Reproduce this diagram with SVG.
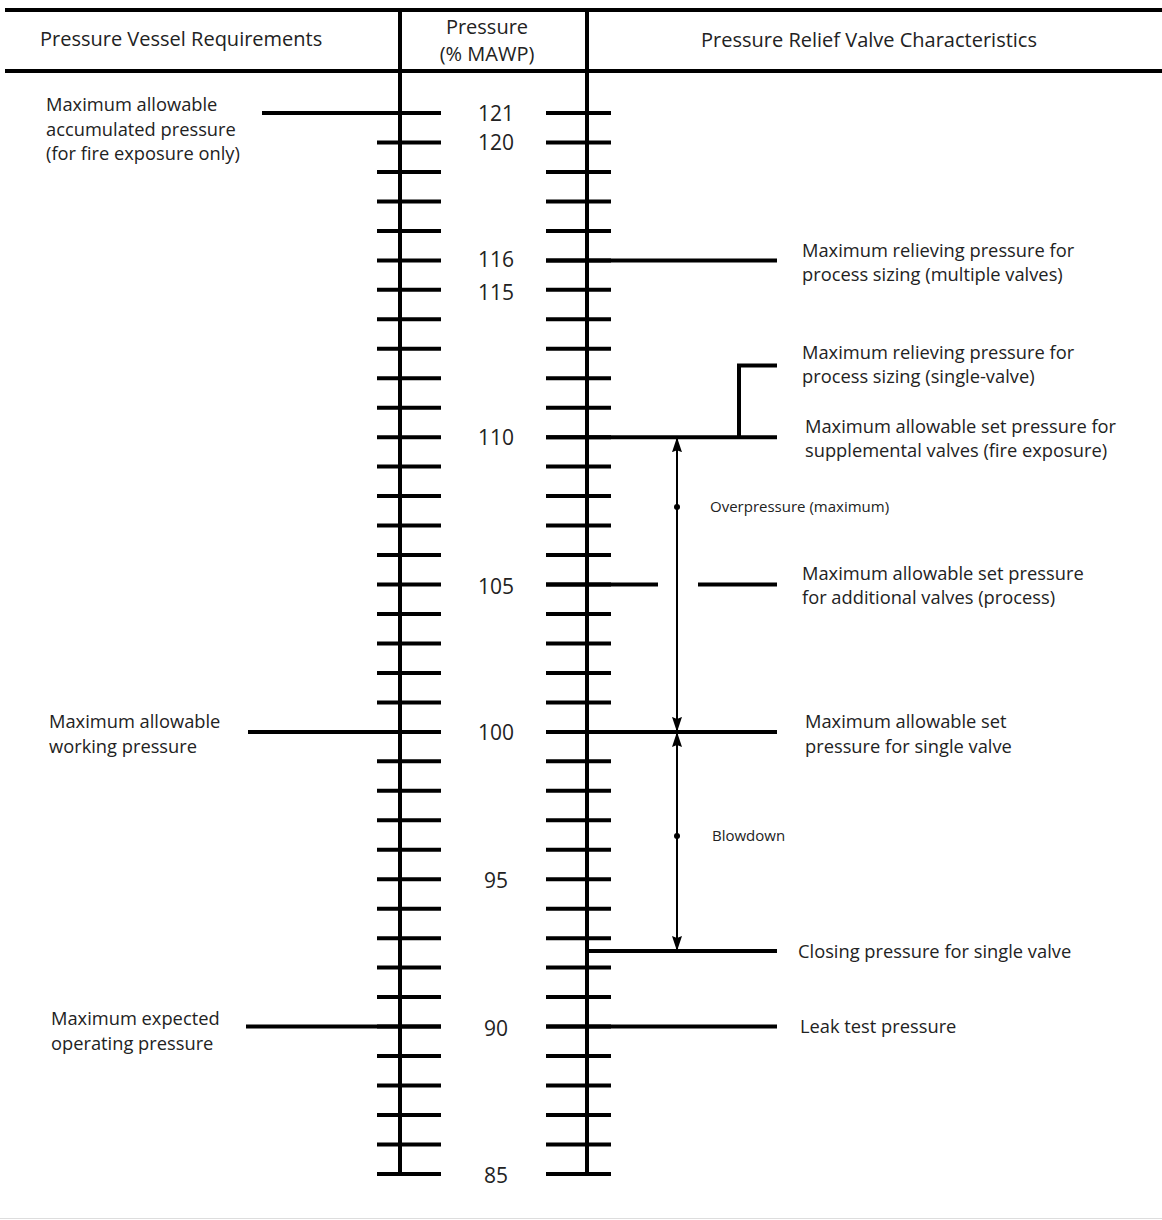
<svg xmlns="http://www.w3.org/2000/svg" width="1162" height="1220" viewBox="0 0 1162 1220">
<style>
.bg{fill:#fff}
.rule{stroke:#000;stroke-width:4;fill:none}
.tick{stroke:#000;stroke-width:4;fill:none}
.lvl{stroke:#000;stroke-width:4;fill:none;stroke-linejoin:miter}
.dim{stroke:#000;stroke-width:2;fill:none}
.dot{fill:#000}
.hdr{font-family:"Open Sans","Liberation Sans",sans-serif;font-size:20px;fill:#222}
.num{font-family:"Open Sans","Liberation Sans",sans-serif;font-size:21px;fill:#222;text-anchor:middle}
.lbl{font-family:"Open Sans","Liberation Sans",sans-serif;font-size:18.3px;fill:#222}
.sm{font-family:"Open Sans","Liberation Sans",sans-serif;font-size:15px;fill:#222}
</style>
<defs>
<marker id="ah" viewBox="0 0 15 10" refX="15" refY="5" markerWidth="15" markerHeight="10" markerUnits="userSpaceOnUse" orient="auto-start-reverse">
<path d="M0,0 L15,5 L0,10 L2,5 z" fill="#000"/>
</marker>
</defs>
<rect class="bg" x="0" y="0" width="1162" height="1220"/>

<g id="header">
<path class="rule" d="M5 10H1162M5 71H1162"/>
<text class="hdr" x="40" y="46">Pressure Vessel Requirements</text>
<text class="hdr" x="487" y="34" text-anchor="middle">Pressure</text>
<text class="hdr" x="487" y="61" text-anchor="middle">(% MAWP)</text>
<text class="hdr" x="869" y="47" text-anchor="middle">Pressure Relief Valve Characteristics</text>
</g>

<g id="scale-left">
<path class="rule" d="M400 10V1175"/>
<path class="tick" d="M377 113H441M377 142.5H441M377 171.9H441M377 201.4H441M377 230.9H441M377 260.4H441M377 289.8H441M377 319.3H441M377 348.8H441M377 378.2H441M377 407.7H441M377 437.2H441M377 466.6H441M377 496.1H441M377 525.6H441M377 555.1H441M377 584.5H441M377 614H441M377 643.5H441M377 672.9H441M377 702.4H441M377 731.9H441M377 761.3H441M377 790.8H441M377 820.3H441M377 849.8H441M377 879.2H441M377 908.7H441M377 938.2H441M377 967.6H441M377 997.1H441M377 1026.6H441M377 1056H441M377 1085.5H441M377 1115H441M377 1144.5H441M377 1173.9H441"/>
</g>

<g id="scale-right">
<path class="rule" d="M587 10V1175"/>
<path class="tick" d="M546 113H611M546 142.5H611M546 171.9H611M546 201.4H611M546 230.9H611M546 260.4H611M546 289.8H611M546 319.3H611M546 348.8H611M546 378.2H611M546 407.7H611M546 437.2H611M546 466.6H611M546 496.1H611M546 525.6H611M546 555.1H611M546 584.5H611M546 614H611M546 643.5H611M546 672.9H611M546 702.4H611M546 731.9H611M546 761.3H611M546 790.8H611M546 820.3H611M546 849.8H611M546 879.2H611M546 908.7H611M546 938.2H611M546 967.6H611M546 997.1H611M546 1026.6H611M546 1056H611M546 1085.5H611M546 1115H611M546 1144.5H611M546 1173.9H611"/>
</g>

<g id="scale-numbers">
<text class="num" x="496" y="121">121</text>
<text class="num" x="496" y="150">120</text>
<text class="num" x="496" y="267">116</text>
<text class="num" x="496" y="300">115</text>
<text class="num" x="496" y="445">110</text>
<text class="num" x="496" y="594">105</text>
<text class="num" x="496" y="740">100</text>
<text class="num" x="496" y="888">95</text>
<text class="num" x="496" y="1036">90</text>
<text class="num" x="496" y="1183">85</text>
</g>

<g id="connectors">
<path class="lvl" d="M262 113H441"/>
<path class="lvl" d="M248 731.9H441"/>
<path class="lvl" d="M246 1026.6H441"/>
<path class="lvl" d="M546 260.4H777"/>
<path class="lvl" d="M546 437.2H777"/>
<path class="lvl" d="M739 437.2V365.5H777"/>
<path class="lvl" d="M546 584.5H658M698 584.5H777"/>
<path class="lvl" d="M546 731.9H777"/>
<path class="lvl" d="M587 951H777"/>
<path class="lvl" d="M546 1026.6H777"/>
<path class="dim" d="M677 437.2V731.9" marker-start="url(#ah)" marker-end="url(#ah)"/>
<circle class="dot" cx="677" cy="507" r="3"/>
<path class="dim" d="M677 731.9V951" marker-start="url(#ah)" marker-end="url(#ah)"/>
<circle class="dot" cx="677" cy="836" r="3"/>
</g>

<g id="label-accumulated">
<text class="lbl" x="46" y="111">Maximum allowable</text>
<text class="lbl" x="46" y="136">accumulated pressure</text>
<text class="lbl" x="46" y="160">(for fire exposure only)</text>
</g>
<g id="label-mawp">
<text class="lbl" x="49" y="728">Maximum allowable</text>
<text class="lbl" x="49" y="753">working pressure</text>
</g>
<g id="label-operating">
<text class="lbl" x="51" y="1025">Maximum expected</text>
<text class="lbl" x="51" y="1050">operating pressure</text>
</g>
<g id="label-multiple">
<text class="lbl" x="802" y="257">Maximum relieving pressure for</text>
<text class="lbl" x="802" y="281">process sizing (multiple valves)</text>
</g>
<g id="label-single-relieving">
<text class="lbl" x="802" y="359">Maximum relieving pressure for</text>
<text class="lbl" x="802" y="383">process sizing (single-valve)</text>
</g>
<g id="label-supplemental">
<text class="lbl" x="805" y="433">Maximum allowable set pressure for</text>
<text class="lbl" x="805" y="457">supplemental valves (fire exposure)</text>
</g>
<g id="label-overpressure">
<text class="sm" x="710" y="512">Overpressure (maximum)</text>
</g>
<g id="label-additional">
<text class="lbl" x="802" y="580">Maximum allowable set pressure</text>
<text class="lbl" x="802" y="604">for additional valves (process)</text>
</g>
<g id="label-single-set">
<text class="lbl" x="805" y="728">Maximum allowable set</text>
<text class="lbl" x="805" y="753">pressure for single valve</text>
</g>
<g id="label-blowdown">
<text class="sm" x="712" y="841">Blowdown</text>
</g>
<g id="label-closing">
<text class="lbl" x="798" y="958">Closing pressure for single valve</text>
</g>
<g id="label-leak">
<text class="lbl" x="800" y="1033">Leak test pressure</text>
</g>
<path d="M0 1218.5H1162" stroke="#ddd" stroke-width="1"/>
</svg>
